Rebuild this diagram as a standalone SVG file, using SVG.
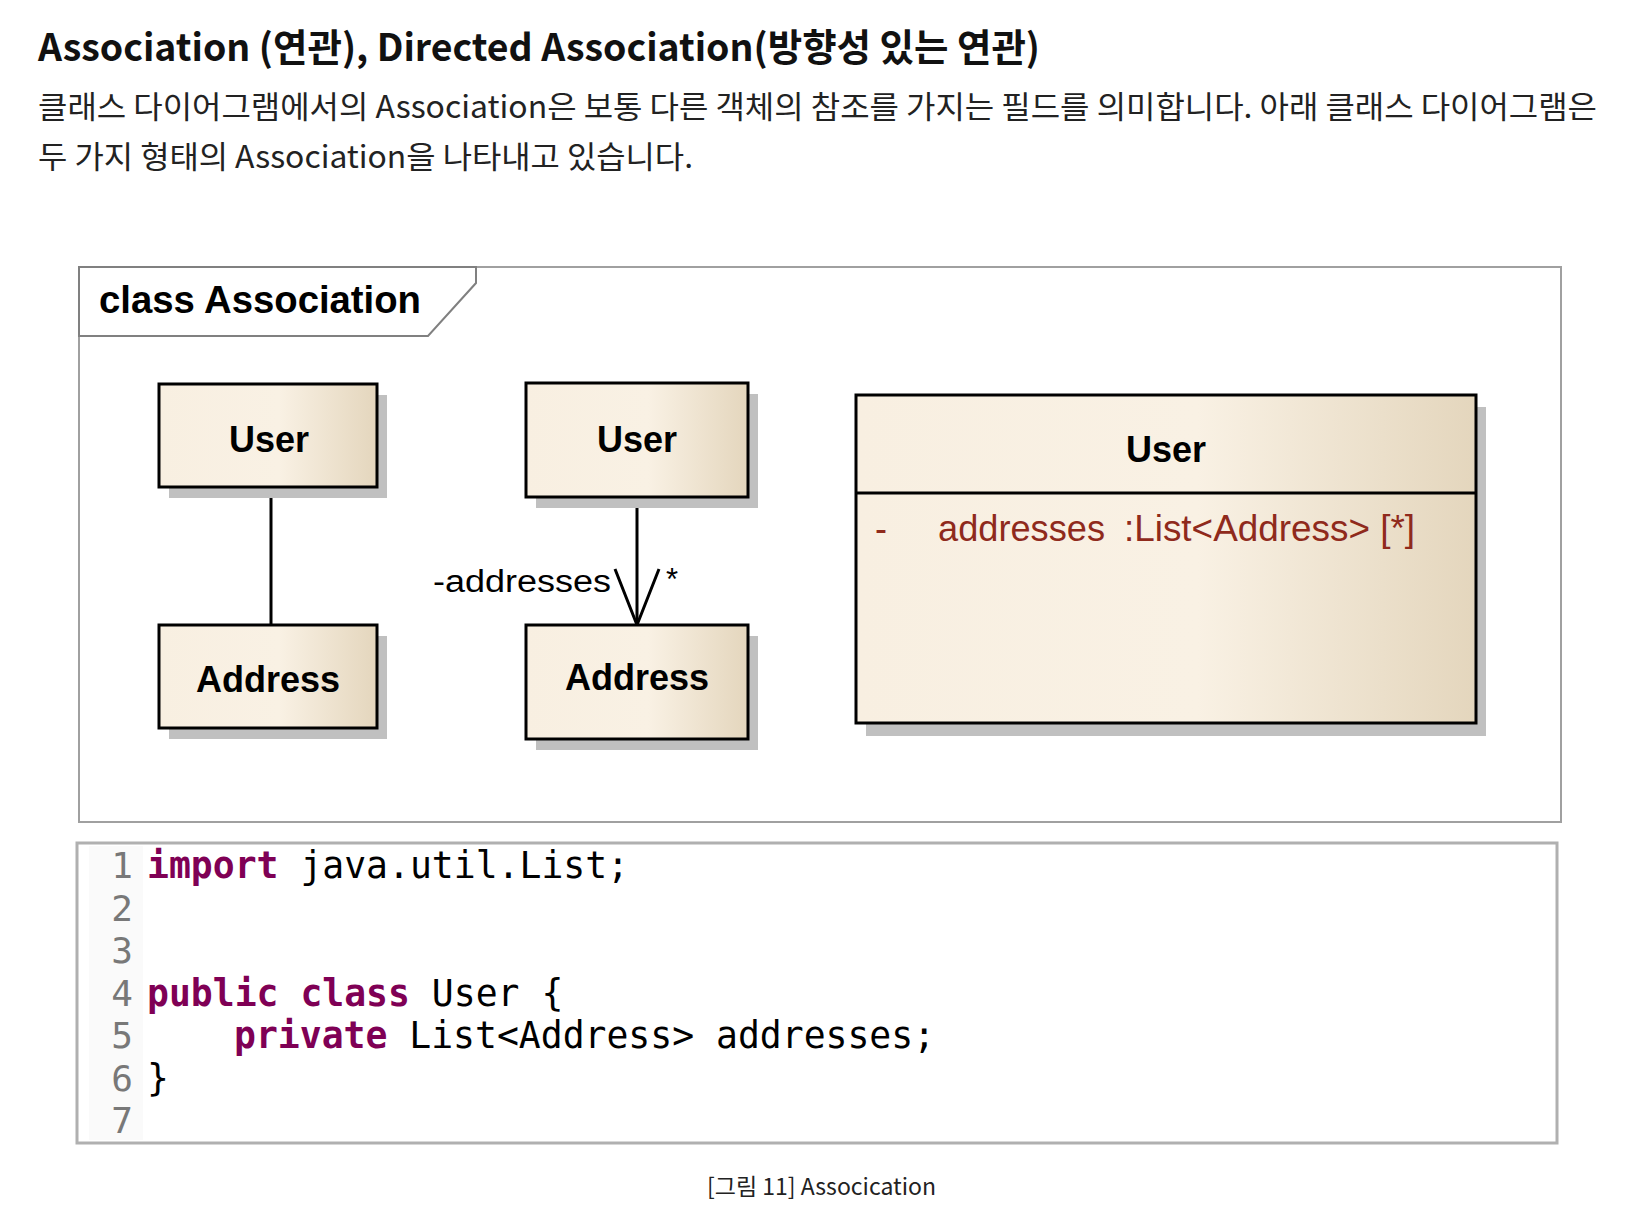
<svg xmlns="http://www.w3.org/2000/svg" width="1648" height="1232" viewBox="0 0 1648 1232">
<defs>
<linearGradient id="cream" x1="0" y1="0" x2="1" y2="0">
<stop offset="0" stop-color="#f8efe1"/>
<stop offset="0.55" stop-color="#f9f1e4"/>
<stop offset="1" stop-color="#e4d6bd"/>
</linearGradient>
<style>
.head{font-family:"Noto Sans CJK KR","Noto Sans",sans-serif;font-weight:bold;font-size:38px;fill:#111}
.para{font-family:"Noto Sans CJK KR","Noto Sans",sans-serif;font-size:31px;fill:#222}
.cap{font-family:"Noto Sans CJK KR","Noto Sans",sans-serif;font-size:23px;fill:#222}
.frame{fill:#fff;stroke:#a0a0a0;stroke-width:2}
.shadow{fill:#c0c0c0}
.box{fill:url(#cream);stroke:#000;stroke-width:3}
.name{font-family:"Liberation Sans",Arial,sans-serif;font-weight:bold;font-size:36px;fill:#000;text-anchor:middle}
.lbl{font-family:"Liberation Sans",Arial,sans-serif;font-size:31px;fill:#000}
.attr{font-family:"Liberation Sans",Arial,sans-serif;font-size:36px;fill:#8f2a1c}
.edge{stroke:#000;stroke-width:3;fill:none}
.code{font-family:"DejaVu Sans Mono","Liberation Mono",monospace;font-size:36.4px;fill:#000}
.kw{fill:#7f0055;font-weight:bold}
.ln{font-family:"DejaVu Sans Mono","Liberation Mono",monospace;font-size:36px;fill:#787878;text-anchor:end}
</style>
</defs>
<rect width="1648" height="1232" fill="#fff"/>

<g id="heading">
<text class="head" x="38" y="61" textLength="1002" lengthAdjust="spacingAndGlyphs">Association (연관), Directed Association(방향성 있는 연관)</text>
<text class="para" x="38" y="118" textLength="1559" lengthAdjust="spacingAndGlyphs">클래스 다이어그램에서의 Association은 보통 다른 객체의 참조를 가지는 필드를 의미합니다. 아래 클래스 다이어그램은</text>
<text class="para" x="38" y="168" textLength="655" lengthAdjust="spacingAndGlyphs">두 가지 형태의 Association을 나타내고 있습니다.</text>
</g>

<g id="frame">
<rect class="frame" x="79" y="267" width="1482" height="555"/>
<polygon points="79,267 476,267 476,283 428,336 79,336" fill="#fff" stroke="#808080" stroke-width="2"/>
<text x="99" y="313" font-family="Liberation Sans, Arial, sans-serif" font-weight="bold" font-size="38" fill="#000" textLength="322" lengthAdjust="spacingAndGlyphs">class Association</text>
</g>

<g id="connectors">
<line class="edge" x1="271" y1="487" x2="271" y2="625"/>
<line class="edge" x1="637" y1="497" x2="637" y2="625"/>
<polyline class="edge" points="615,569 637,625 659,569"/>
<text class="lbl" x="433" y="592" textLength="178" lengthAdjust="spacingAndGlyphs">-addresses</text>
<text class="lbl" x="666" y="590">*</text>
</g>

<g id="user1">
<rect class="shadow" x="169" y="395" width="218" height="103"/>
<rect class="box" x="159" y="384" width="218" height="103"/>
<text class="name" x="269" y="452">User</text>
</g>

<g id="address1">
<rect class="shadow" x="169" y="636" width="218" height="103"/>
<rect class="box" x="159" y="625" width="218" height="103"/>
<text class="name" x="268" y="692">Address</text>
</g>

<g id="user2">
<rect class="shadow" x="536" y="394" width="222" height="114"/>
<rect class="box" x="526" y="383" width="222" height="114"/>
<text class="name" x="637" y="452">User</text>
</g>

<g id="address2">
<rect class="shadow" x="536" y="636" width="222" height="114"/>
<rect class="box" x="526" y="625" width="222" height="114"/>
<text class="name" x="637" y="690">Address</text>
</g>

<g id="user3">
<rect class="shadow" x="866" y="407" width="620" height="329"/>
<rect class="box" x="856" y="395" width="620" height="328"/>
<line x1="856" y1="493" x2="1476" y2="493" stroke="#000" stroke-width="3"/>
<text class="name" x="1166" y="462">User</text>
<text class="attr" x="875" y="541">-</text>
<text class="attr" x="938" y="541" textLength="167" lengthAdjust="spacingAndGlyphs">addresses</text>
<text class="attr" x="1124" y="541" textLength="291" lengthAdjust="spacingAndGlyphs">:List&lt;Address&gt; [*]</text>
</g>

<g id="code">
<rect x="77" y="843" width="1480" height="300" fill="#fff" stroke="#b0b0b0" stroke-width="3"/>
<rect x="89" y="846" width="54" height="294" fill="#fafafa"/>
<text class="ln" x="133" y="878">1</text>
<text class="ln" x="133" y="920.5">2</text>
<text class="ln" x="133" y="963">3</text>
<text class="ln" x="133" y="1005.5">4</text>
<text class="ln" x="133" y="1048">5</text>
<text class="ln" x="133" y="1090.5">6</text>
<text class="ln" x="133" y="1133">7</text>
<text class="code" x="147" y="878"><tspan class="kw">import</tspan> java.util.List;</text>
<text class="code" x="147" y="1005.5"><tspan class="kw">public</tspan> <tspan class="kw">class</tspan> User {</text>
<text class="code" x="234" y="1048"><tspan class="kw">private</tspan> List&lt;Address&gt; addresses;</text>
<text class="code" x="147" y="1090.5">}</text>
</g>

<g id="caption">
<text class="cap" x="707" y="1195" textLength="229" lengthAdjust="spacingAndGlyphs">[그림 11] Assocication</text>
</g>
</svg>
